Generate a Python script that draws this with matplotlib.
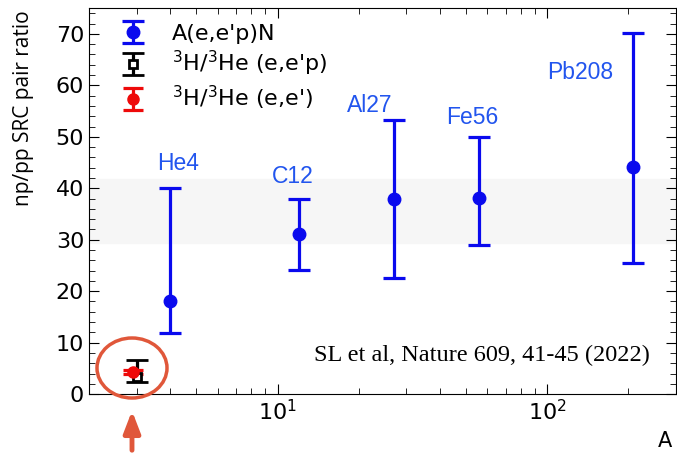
import numpy as np
import matplotlib.pyplot as plt
from matplotlib.patches import Ellipse

# A(e,e'p)N ratios
nuclei = ['He4', 'C12', 'Al27', 'Fe56', 'Pb208']
A = [4, 12, 27, 56, 208]
ratio = [18.1, 31.2, 37.9, 38.2, 44.2]
err_lo = [6.3, 7.0, 15.3, 9.3, 18.8]
err_hi = [21.9, 6.8, 15.4, 11.8, 26.0]

# 3H/3He
A_ep = [3.0]
ratio_ep = [3.4]
ep_lo = [1.0]
ep_hi = [3.3]

A_ee = [2.92]
ratio_ee = [4.3]
ee_err = [0.4]

band_lo, band_hi = 29.3, 41.8

label_pos = [(4.27, 44.8), (11.4, 42.2), (21.9, 56.0), (52.7, 53.7), (132.0, 62.4)]

fig = plt.figure(figsize=(6.77, 4.53), dpi=100)
ax = fig.add_axes([0.1315, 0.130, 0.867, 0.852])

ax.axhspan(band_lo, band_hi, color='#f6f6f6', zorder=0)

ax.errorbar(A, ratio, yerr=[err_lo, err_hi], fmt='o', color='#0a0aee', ms=9,
            elinewidth=2.3, capsize=8, capthick=2.3, label="A(e,e'p)N")
ax.errorbar(A_ep, ratio_ep, yerr=[ep_lo, ep_hi], fmt='s', color='black', mfc='white',
            ms=6, mew=2, elinewidth=2.3, capsize=8, capthick=2.3,
            label="$^3$H/$^3$He (e,e'p)")
ax.errorbar(A_ee, ratio_ee, yerr=[ee_err], fmt='o', color='#ee0a0a', ms=8,
            elinewidth=2.3, capsize=7, capthick=2.3, label="$^3$H/$^3$He (e,e')")

for name, (x, y) in zip(nuclei, label_pos):
    ax.text(x, y, name, color='#2255ee', fontsize=16.5, ha='center', va='center',
            family='Liberation Sans')

ax.text(0.955, 0.1, 'SL et al, Nature 609, 41-45 (2022)', transform=ax.transAxes,
        ha='right', va='center', fontsize=17.5, family='Liberation Serif')

ax.set_xscale('log')
ax.set_xlim(2, 300)
ax.set_ylim(0, 75)
ax.set_yticks(np.arange(0, 80, 10))
ax.set_yticks(np.arange(0, 76, 2), minor=True)
ax.tick_params(which='both', direction='in', top=True, right=True, labelsize=16)
ax.tick_params(which='major', length=7)
ax.tick_params(which='minor', length=4)
ax.set_ylabel('np/pp SRC pair ratio', fontsize=15, family='Open Sans')
ax.yaxis.set_label_coords(-0.094, 0.74)
fig.text(665 / 677, 1 - 441 / 453, 'A', fontsize=15, ha='center', va='center')

ax.legend(loc='upper left', bbox_to_anchor=(0.035, 0.977), frameon=False, fontsize=16,
          handlelength=1.5, borderaxespad=0.0, labelspacing=0.25, handletextpad=1.0,
          borderpad=0.3)

# highlight the A=3 point
ell = Ellipse((132 / 677, 1 - 368 / 453), 70 / 677, 60 / 453, transform=fig.transFigure,
              fill=False, edgecolor='#e0573a', lw=2.5)
fig.patches.append(ell)
ax.annotate('', xy=(132 / 677, 1 - 408 / 453), xytext=(132 / 677, 0.0),
            xycoords='figure fraction', textcoords='figure fraction',
            arrowprops=dict(arrowstyle='-|>,head_width=0.5,head_length=1.3',
                            color='#e0573a', lw=3.5))

fig.savefig('out.png', dpi=100)
